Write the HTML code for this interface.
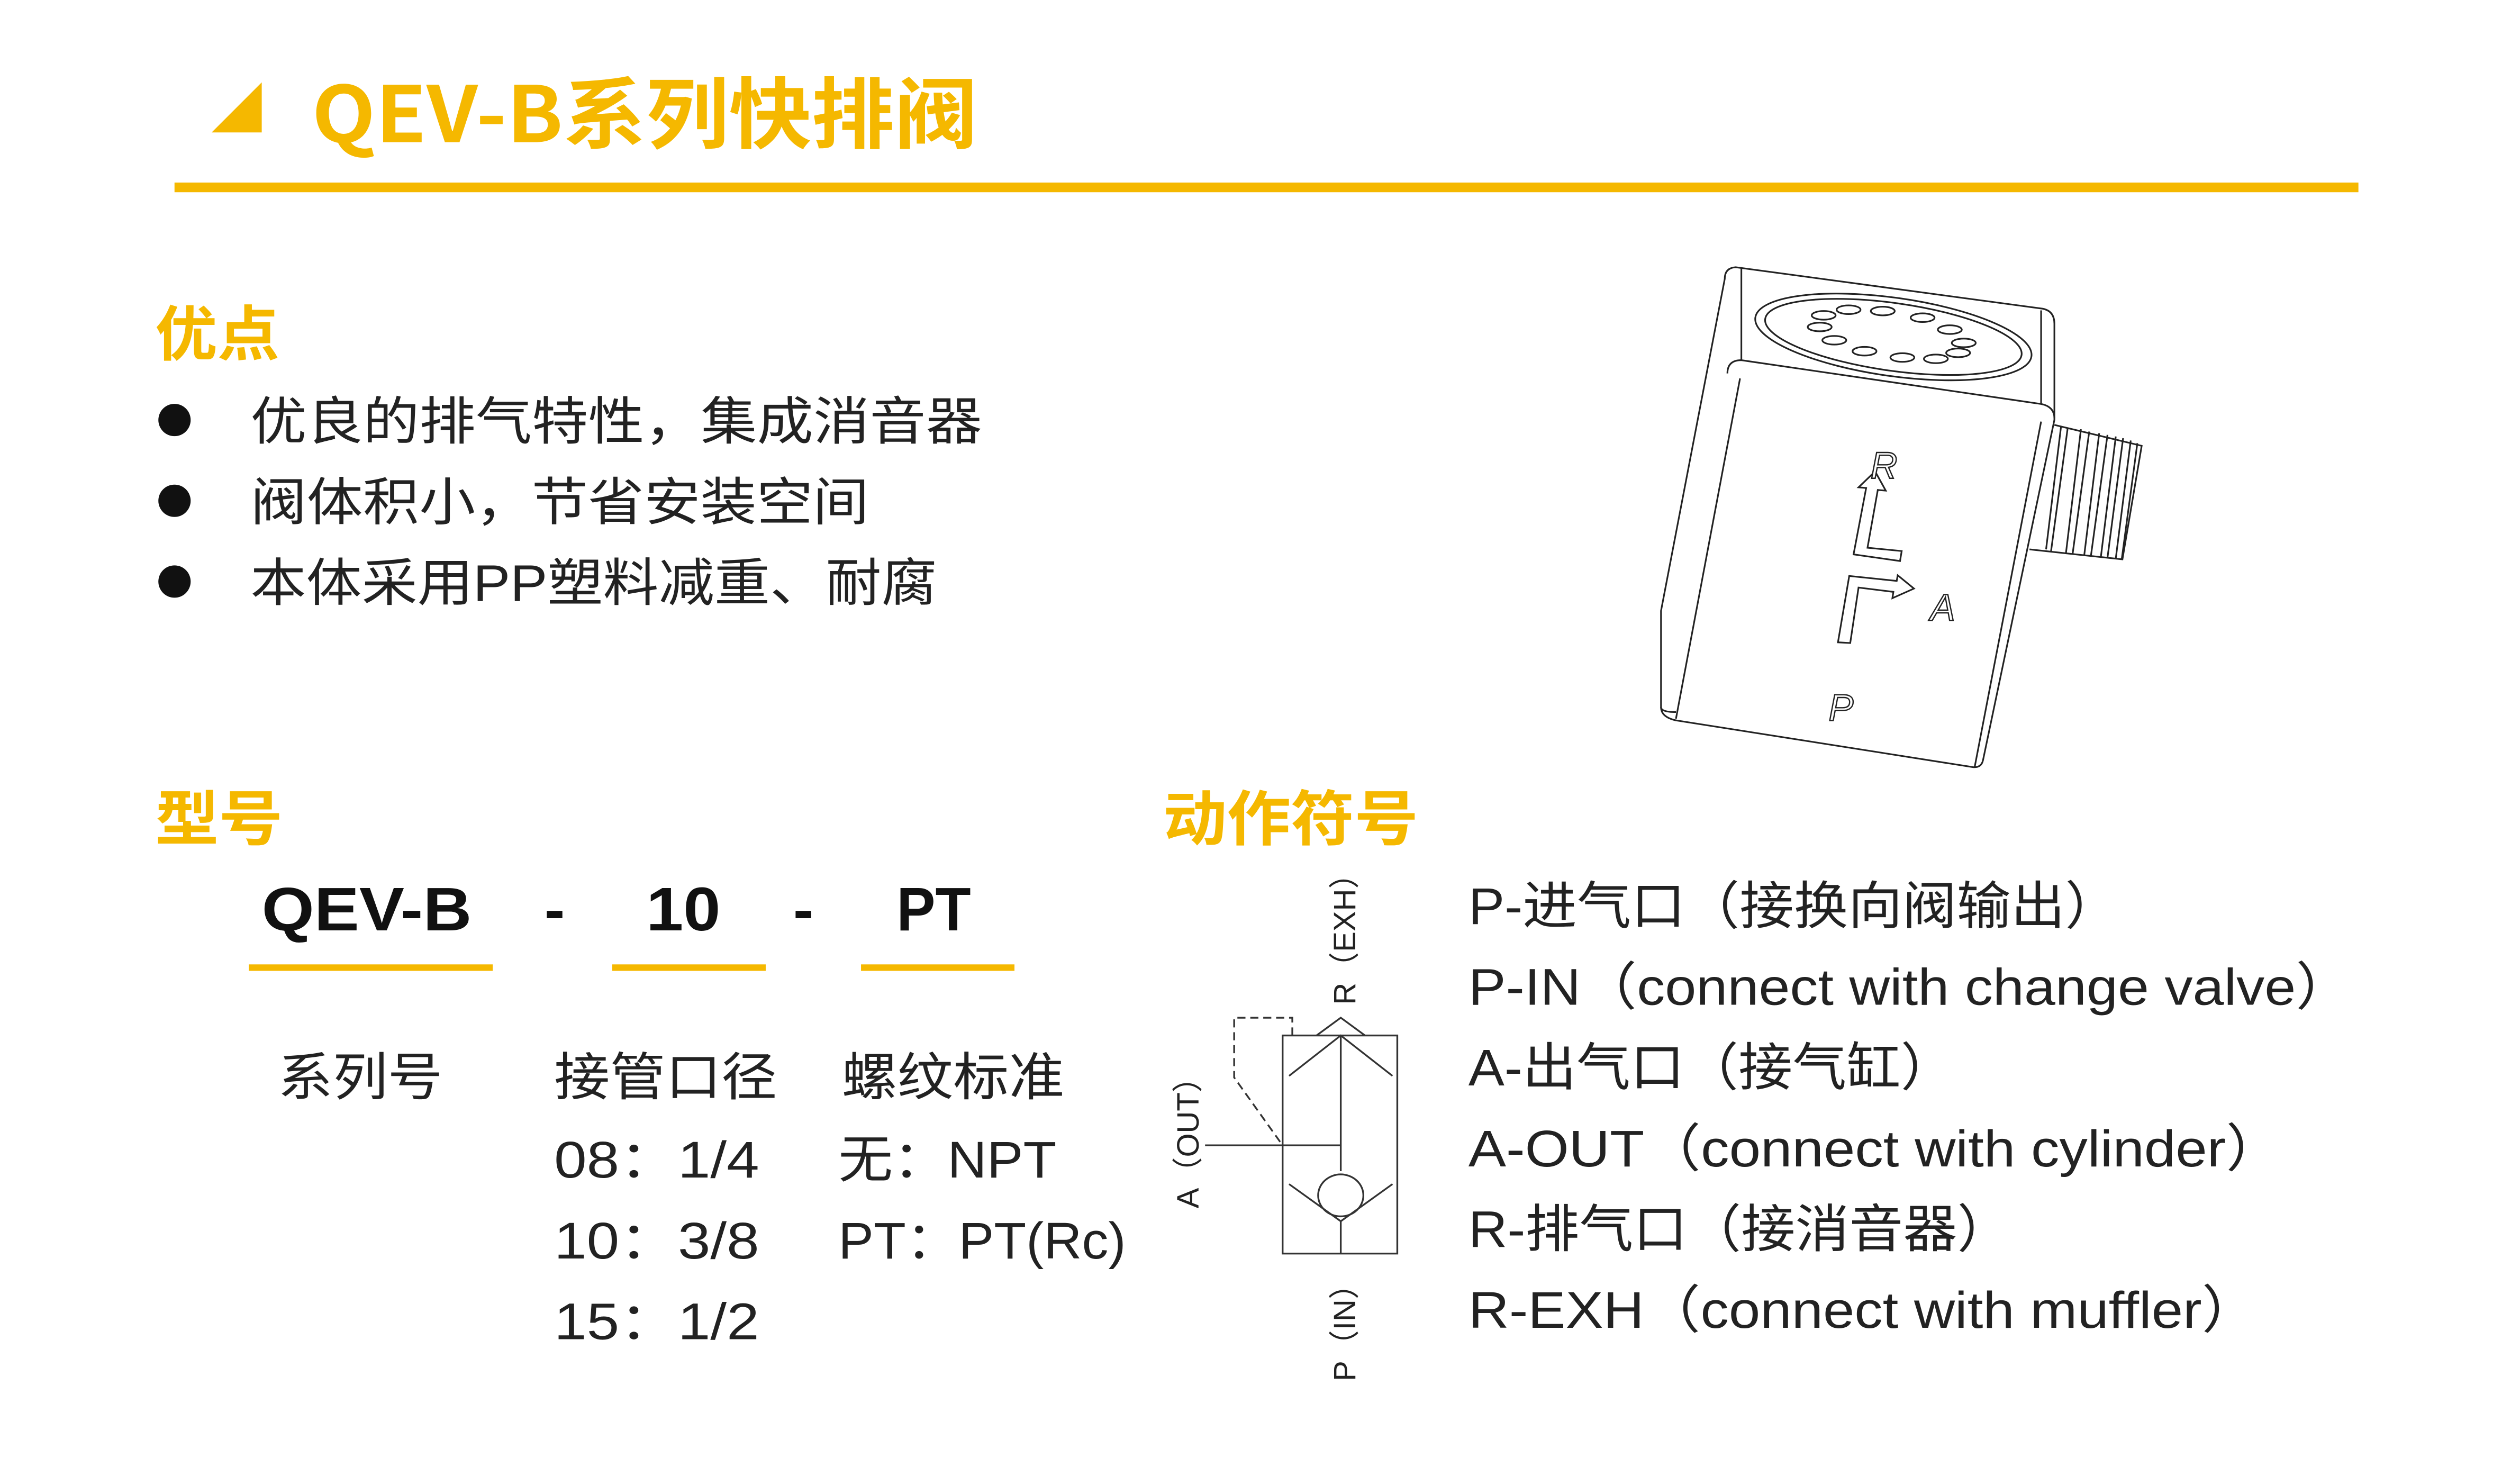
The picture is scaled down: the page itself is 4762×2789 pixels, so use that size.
<!DOCTYPE html>
<html><head><meta charset="utf-8"><style>
html,body{margin:0;padding:0;background:#fff;}
svg{display:block;}
text{font-family:"Liberation Sans","Noto Sans CJK SC",sans-serif;}
</style></head><body>
<svg width="4762" height="2789" viewBox="0 0 1560 913.7" xmlns="http://www.w3.org/2000/svg">
<rect width="1560" height="914" fill="#fff"/>
<!-- header -->
<polygon points="131,82 162,82 162,51" fill="#F5B800"/>
<text x="193" y="88" font-size="48" font-weight="bold" fill="#F5B800" textLength="412" lengthAdjust="spacingAndGlyphs" style='font-family:"Noto Sans CJK SC",sans-serif'>QEV-B系列快排阀</text>
<rect x="108" y="113" width="1352" height="6" fill="#F5B800"/>

<text x="96" y="220" font-size="37" font-weight="bold" fill="#F5B800" textLength="77" lengthAdjust="spacingAndGlyphs" style='font-family:"Noto Sans CJK SC",sans-serif'>优点</text>
<g fill="#111">
<circle cx="108" cy="260" r="10"/><circle cx="108" cy="310" r="10"/><circle cx="108" cy="360" r="10"/>
</g>
<g font-size="32" fill="#222" style='font-family:"Noto Sans CJK SC",sans-serif' lengthAdjust="spacingAndGlyphs">
<text x="155" y="272" textLength="453" lengthAdjust="spacingAndGlyphs">优良的排气特性，集成消音器</text>
<text x="155" y="322" textLength="383" lengthAdjust="spacingAndGlyphs">阀体积小，节省安装空间</text>
<text x="155" y="372" textLength="425" lengthAdjust="spacingAndGlyphs">本体采用PP塑料减重、耐腐</text>
</g>

<text x="96" y="520" font-size="37" font-weight="bold" fill="#F5B800" textLength="79" lengthAdjust="spacingAndGlyphs" style='font-family:"Noto Sans CJK SC",sans-serif'>型号</text>
<text x="720" y="520" font-size="37" font-weight="bold" fill="#F5B800" textLength="158" lengthAdjust="spacingAndGlyphs" style='font-family:"Noto Sans CJK SC",sans-serif'>动作符号</text>

<g font-size="38" font-weight="bold" fill="#111" style='font-family:"Noto Sans CJK SC",sans-serif'>
<text x="162" y="576" textLength="130" lengthAdjust="spacingAndGlyphs">QEV-B</text>
<text x="337" y="576">-</text>
<text x="400" y="576" textLength="46" lengthAdjust="spacingAndGlyphs">10</text>
<text x="491" y="576">-</text>
<text x="555" y="576" textLength="46" lengthAdjust="spacingAndGlyphs">PT</text>
</g>
<g fill="#F5B800">
<rect x="154" y="597" width="151" height="4"/>
<rect x="379" y="597" width="95" height="4"/>
<rect x="533" y="597" width="95" height="4"/>
</g>
<g font-size="32" fill="#222" style='font-family:"Noto Sans CJK SC",sans-serif'>
<text x="172" y="678" textLength="102" lengthAdjust="spacingAndGlyphs">系列号</text>
<text x="343" y="678" textLength="138" lengthAdjust="spacingAndGlyphs">接管口径</text>
<text x="521" y="678" textLength="138" lengthAdjust="spacingAndGlyphs">螺纹标准</text>
<text x="343" y="729" textLength="127" lengthAdjust="spacingAndGlyphs">08：1/4</text>
<text x="343" y="779" textLength="127" lengthAdjust="spacingAndGlyphs">10：3/8</text>
<text x="343" y="829" textLength="127" lengthAdjust="spacingAndGlyphs">15：1/2</text>
<text x="519" y="729" textLength="135" lengthAdjust="spacingAndGlyphs">无：NPT</text>
<text x="519" y="779" textLength="178" lengthAdjust="spacingAndGlyphs">PT：PT(Rc)</text>
<text x="909" y="572" textLength="403" lengthAdjust="spacingAndGlyphs">P-进气口（接换向阀输出）</text>
<text x="909" y="622" textLength="547" lengthAdjust="spacingAndGlyphs">P-IN（connect with change valve）</text>
<text x="909" y="672" textLength="301" lengthAdjust="spacingAndGlyphs">A-出气口（接气缸）</text>
<text x="909" y="722" textLength="504" lengthAdjust="spacingAndGlyphs">A-OUT（connect with cylinder）</text>
<text x="909" y="772" textLength="336" lengthAdjust="spacingAndGlyphs">R-排气口（接消音器）</text>
<text x="909" y="822" textLength="489" lengthAdjust="spacingAndGlyphs">R-EXH（connect with muffler）</text>
</g>

<!-- symbol -->
<g stroke="#333" stroke-width="1.1" fill="none">
<rect x="794" y="641" width="71" height="135"/>
<line x1="830" y1="641" x2="830" y2="725"/>
<line x1="830" y1="756" x2="830" y2="776"/>
<polyline points="815,641 830,630 845,641"/>
<polyline points="798,666 830,641 862,666"/>
<polyline points="798,733 830,756 862,733"/>
<ellipse cx="830" cy="740" rx="14" ry="13"/>
<line x1="746" y1="709" x2="830" y2="709"/>
<polyline points="800,641 800,630 764,630 764,667 794,709" stroke-dasharray="5,3"/>
</g>
<g font-size="19" fill="#222" style='font-family:"Noto Sans CJK SC",sans-serif'>
<text transform="translate(742,748) rotate(-90)">A（OUT）</text>
<text transform="translate(839,622) rotate(-90)">R（EXH）</text>
<text transform="translate(839,855) rotate(-90)">P（IN）</text>
</g>

<!-- valve drawing -->
<g transform="translate(1022.1,157.2) scale(0.2055)" stroke="#222" stroke-width="5" fill="none">
<path d="M222,75 Q222,42 255,40 L1180,165 Q1215,172 1215,210 L1215,500 L1000,1525 Q995,1548 970,1546 L75,1405 Q30,1395 30,1365 L30,1075 Z" fill="#fff"/>
<path d="M230,360 Q230,320 272,320 L1175,452 Q1215,460 1215,495"/>
<path d="M272,40 L272,320"/>
<path d="M1175,170 L1175,452"/>
<path d="M268,375 L75,1400"/>
<path d="M1175,505 L975,1545"/>
<path d="M30,1365 Q30,1380 75,1380"/>
<ellipse cx="730" cy="250" rx="420" ry="118" transform="rotate(8 730 250)"/>
<ellipse cx="730" cy="250" rx="390" ry="102" transform="rotate(8 730 250)"/>
<g>
<ellipse cx="595" cy="168" rx="36" ry="13"/>
<ellipse cx="698" cy="172" rx="36" ry="13"/>
<ellipse cx="818" cy="192" rx="36" ry="13"/>
<ellipse cx="900" cy="228" rx="36" ry="13"/>
<ellipse cx="942" cy="268" rx="36" ry="13"/>
<ellipse cx="925" cy="298" rx="36" ry="13"/>
<ellipse cx="858" cy="316" rx="36" ry="13"/>
<ellipse cx="757" cy="312" rx="36" ry="13"/>
<ellipse cx="643" cy="293" rx="36" ry="13"/>
<ellipse cx="552" cy="260" rx="36" ry="13"/>
<ellipse cx="508" cy="220" rx="36" ry="13"/>
<ellipse cx="520" cy="185" rx="36" ry="13"/>
</g>
<!-- thread -->
<path d="M1215,515 L1478,578 L1420,920 L1140,890" fill="#fff"/>
<g>
<path d="M1235,520 L1190,890"/><path d="M1255,525 L1205,895"/>
<path d="M1295,528 L1250,900"/><path d="M1320,535 L1270,903"/>
<path d="M1350,540 L1305,907"/><path d="M1375,545 L1325,910"/>
<path d="M1400,550 L1355,913"/><path d="M1422,555 L1375,915"/>
<path d="M1445,562 L1400,917"/><path d="M1465,570 L1418,919"/>
</g>
<!-- arrows -->
<path d="M610,905 L648,705 L625,703 L675,655 L707,713 L683,711 L652,885 L755,895 L750,925 Z" fill="#fff"/>
<path d="M563,1170 L597,970 L740,985 L743,968 L792,1008 L727,1037 L730,1018 L625,1005 L600,1172 Z" fill="#fff"/>
</g>
<g font-size="23" font-style="italic" fill="#fff" stroke="#222" stroke-width="0.8">
<text x="1158" y="296">R</text>
<text x="1195" y="384">A</text>
<text x="1132" y="446">P</text>
</g>
</svg>
</body></html>
